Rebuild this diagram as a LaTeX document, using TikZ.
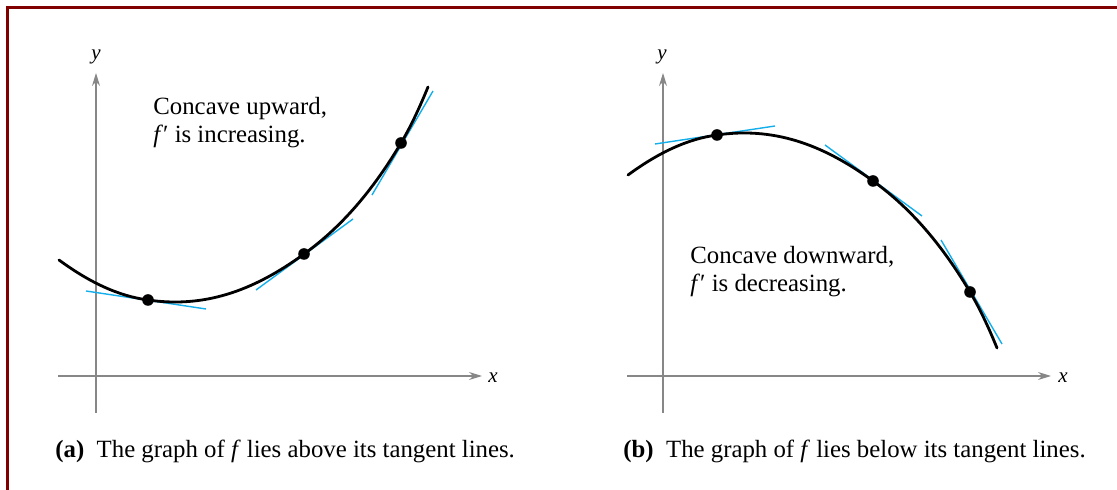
\documentclass[tikz,border=0pt]{standalone}
\usepackage{fontspec}
\setmainfont{Liberation Serif}
\usetikzlibrary{arrows.meta}
\definecolor{bordo}{RGB}{128,0,0}
\definecolor{tangente}{RGB}{20,175,235}
\definecolor{grigio}{RGB}{135,135,135}
\tikzset{
    asse/.style={grigio, line width=0.65pt, -{Stealth[length=6.5pt, width=4pt]}},
    curva/.style={line width=1.4pt, line cap=round},
    tang/.style={tangente, line width=0.7pt},
    punto/.style={circle, fill=black, inner sep=0pt, minimum size=5.8pt},
    testo/.style={font=\fontsize{12.4}{14}\selectfont, inner sep=0pt},
    etich/.style={font=\fontsize{10.5}{12}\selectfont\itshape, inner sep=0pt}
}
% curva concava verso l'alto, con tangenti e punti
\newcommand\grafico{%
    \draw[tang] (86,291) -- (206,309);
    \draw[tang] (256,290) -- (353,219);
    \draw[tang] (372,195) -- (433,91);
    \draw[curva] (59,260) .. controls (89,282) and (118,296) .. (148,300)
        .. controls (203,308) and (252,292) .. (304,254)
        .. controls (336,231) and (369,197) .. (401,143)
        .. controls (410,128) and (419,109) .. (428,87);
    \node[punto] (A) at (148,300) {};
    \node[punto] (B) at (304,254) {};
    \node[punto] (C) at (401,143) {};
}
\begin{document}
\begin{tikzpicture}[x=0.5pt, y=-0.5pt]
    \useasboundingbox (0,0) rectangle (1117,490);
    % Cornice
    \draw[bordo, line width=1.5pt] (7.5,490) -- (7.5,7.5) -- (1117,7.5);

    % (a) Concava verso l'alto
    \draw[asse] (58,376) -- (482,376);
    \draw[asse] (96,413) -- (96,73);
    \node[etich] (xa) at (493,378) {x};
    \node[etich] (ya) at (96,57) {y};
    \grafico
    \node[testo, anchor=base west, align=left] (su) at (153,143)
        {Concave upward,\\\textit{f}′ is increasing.};
    \node[testo, anchor=base west] (capa) at (55,458)
        {\textbf{(a)}\enspace The graph of \textit{f} lies above its tangent lines.};

    % (b) Concava verso il basso
    \draw[asse] (627,376) -- (1051,376);
    \draw[asse] (663,413) -- (663,73);
    \node[etich] (xb) at (1063,378) {x};
    \node[etich] (yb) at (662,57) {y};
    \begin{scope}[shift={(569,435)}, yscale=-1]
        \grafico
    \end{scope}
    \node[testo, anchor=base west, align=left] (giu) at (690,292)
        {Concave downward,\\\textit{f}′ is decreasing.};
    \node[testo, anchor=base west] (capb) at (623,458)
        {\textbf{(b)}\enspace The graph of \textit{f} lies below its tangent lines.};
\end{tikzpicture}
\end{document}
